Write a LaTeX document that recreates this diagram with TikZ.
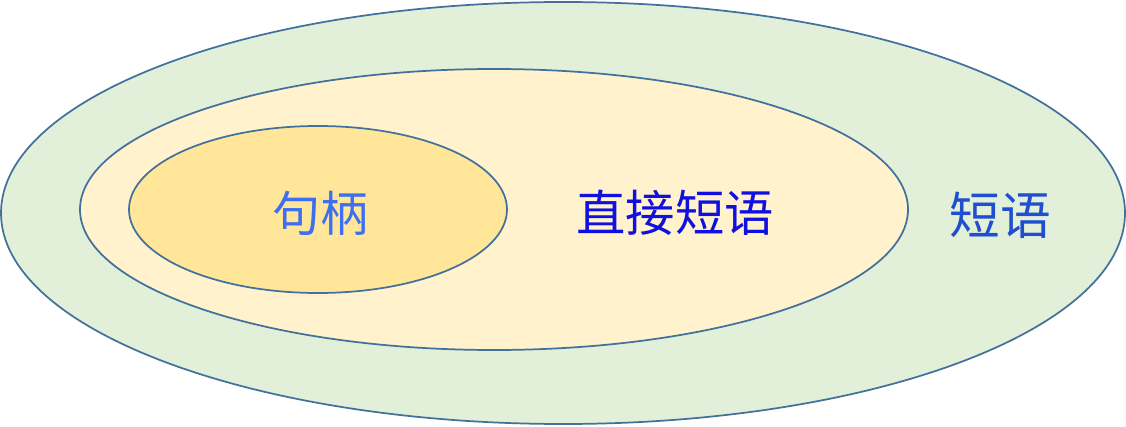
\documentclass[tikz,border=0pt]{standalone}
\usepackage{fontspec}
\newfontfamily\cjk{Noto Sans CJK SC}
\usepackage{xcolor}

\begin{document}
\begin{tikzpicture}[x=0.75pt,y=0.75pt,yscale=-1,xscale=1]
\useasboundingbox (0,0) rectangle (1126,427);

%Shape: Ellipse (phrase)
\draw  [color={rgb, 255:red, 65; green, 113; blue, 156 }  ,line width=1.3pt ,fill={rgb, 255:red, 226; green, 239; blue, 217 }  ,fill opacity=1 ] (563,213) ellipse (562 and 211) ;
%Shape: Ellipse (direct phrase)
\draw  [color={rgb, 255:red, 65; green, 113; blue, 156 }  ,line width=1.3pt ,fill={rgb, 255:red, 255; green, 242; blue, 204 }  ,fill opacity=1 ] (494,209.5) ellipse (414 and 140.5) ;
%Shape: Ellipse (handle)
\draw  [color={rgb, 255:red, 65; green, 113; blue, 156 }  ,line width=1.3pt ,fill={rgb, 255:red, 255; green, 230; blue, 153 }  ,fill opacity=1 ] (318,209.5) ellipse (189 and 83.5) ;

% Text Node
\draw (320,213) node (handle) [inner sep=0.75pt]  [font=\cjk\fontsize{36}{36}\selectfont,color={rgb, 255:red, 61; green, 111; blue, 240 }  ,opacity=1 ] [align=left] {句柄};
% Text Node
\draw (675,213) node (direct) [inner sep=0.75pt]  [font=\cjk\fontsize{37}{37}\selectfont,color={rgb, 255:red, 16; green, 16; blue, 224 }  ,opacity=1 ] [align=left] {直接短语};
% Text Node
\draw (1000,215) node (phrase) [inner sep=0.75pt]  [font=\cjk\fontsize{38}{38}\selectfont,color={rgb, 255:red, 31; green, 79; blue, 208 }  ,opacity=1 ] [align=left] {短语};

\end{tikzpicture}
\end{document}
